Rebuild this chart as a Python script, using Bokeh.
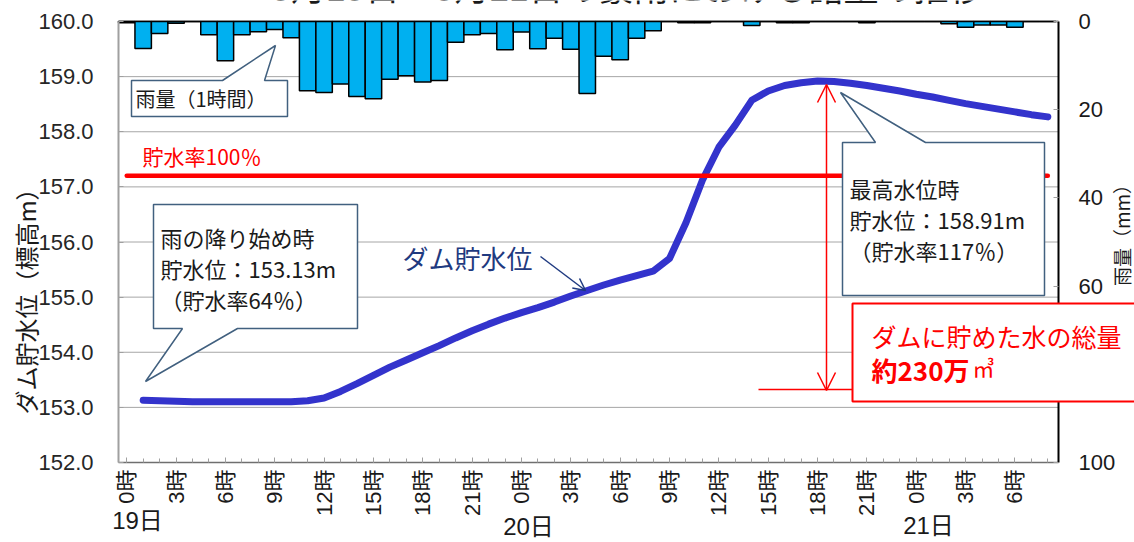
import math
from bokeh.plotting import figure
from bokeh.models import (Range1d, LinearAxis, FixedTicker, Label, Arrow, OpenHead,
                          BoxAnnotation, PrintfTickFormatter)
from bokeh.embed import file_html
from bokeh.resources import INLINE

# ---------------- data ----------------
hours = list(range(57))          # 19日0時 ... 21日8時
rain_mm = [0.3, 6.1, 2.7, 0.4, 0.0, 3.0, 8.9, 3.0, 2.3, 1.8,
           3.7, 15.7, 16.1, 14.2, 17.0, 17.5, 13.1, 12.3, 13.7, 13.4,
           4.7, 3.0, 2.7, 6.4, 2.4, 6.2, 3.8, 6.3, 16.3, 7.9,
           8.7, 3.8, 2.1, 0.0, 0.3, 0.3, 0.0, 0.0, 0.9, 0.0,
           0.3, 0.3, 0.0, 0.0, 0.0, 0.3, 0.0, 0.0, 0.0, 0.0,
           0.5, 1.3, 0.8, 0.8, 1.3, 0.0, 0.0]
level_hours = list(range(1, 57))
level_m = [153.13, 153.12, 153.11, 153.10, 153.10, 153.10, 153.10, 153.10, 153.10, 153.10,
           153.12, 153.17, 153.29, 153.43, 153.58, 153.73, 153.86, 153.99, 154.12, 154.26,
           154.39, 154.51, 154.62, 154.72, 154.81, 154.91, 155.02, 155.12, 155.22, 155.31,
           155.39, 155.47, 155.70, 156.35, 157.12, 157.72, 158.12, 158.57, 158.74, 158.84,
           158.89, 158.92, 158.91, 158.88, 158.84, 158.79, 158.74, 158.68, 158.63, 158.57,
           158.51, 158.46, 158.41, 158.36, 158.31, 158.27]
full_level = 157.2
level_ticks = [152, 153, 154, 155, 156, 157, 158, 159, 160]
rain_ticks = [0, 20, 40, 60, 80, 100]
tick_hours = list(range(0, 55, 3))
tick_labels = ["0時", "3時", "6時", "9時", "12時", "15時", "18時", "21時",
               "0時", "3時", "6時", "9時", "12時", "15時", "18時", "21時",
               "0時", "3時", "6時"]
day_labels = ["19日", "20日", "21日"]
title_text = "9月19日～9月21日の豪雨における諸量の推移"

# ---------------- layout (canvas pixels -> data) ----------------
CW, CH = 1134, 542
FL, FT, FW, FH = 118.0, 21.0, 940.0, 441.0     # visual plot box
XR = (-0.5, 56.65)
YR = (152.0, 160.0)
RR = (0.0, 100.0)


def hx(px):
    return XR[0] + (px - FL) * (XR[1] - XR[0]) / FW


def ly(py):
    return YR[1] - (py - FT) * (YR[1] - YR[0]) / FH


def rr(py):
    return RR[0] + (py - FT) * (RR[1] - RR[0]) / FH


JP = "Noto Sans CJK JP"
MIX = "'Liberation Sans', 'Noto Sans CJK JP'"

p = figure(width=CW, height=CH, min_border=0,
           x_range=Range1d(hx(0), hx(CW)), y_range=Range1d(ly(CH), ly(0)),
           x_axis_location=None, y_axis_location=None,
           output_backend="svg", toolbar_location=None,
           background_fill_color="white", border_fill_color="white")
p.extra_y_ranges = {"rain": Range1d(rr(CH), rr(0))}
p.outline_line_color = None
p.grid.visible = False

# grid lines and top edge of the plot box
p.segment(x0=XR[0], x1=XR[1], y0=level_ticks[1:-1], y1=level_ticks[1:-1],
          line_color="#A6A6A6", line_width=1)
p.segment(x0=XR[0], x1=XR[1], y0=YR[1], y1=YR[1], line_color="black", line_width=1.5)

# left axis
ya = LinearAxis(ticker=FixedTicker(ticks=level_ticks),
                formatter=PrintfTickFormatter(format="%.1f"),
                fixed_location=XR[0], bounds=YR)
ya.major_label_text_font = MIX
ya.major_label_text_font_size = "22px"
ya.major_label_text_color = "#262626"
ya.major_label_standoff = 25
ya.axis_line_color = "#A0A0A0"
ya.axis_line_width = 2
ya.major_tick_line_color = "#A0A0A0"
ya.major_tick_in = 5
ya.major_tick_out = 0
ya.minor_tick_line_color = None
p.add_layout(ya, "left")

# bottom axis
xa = LinearAxis(ticker=FixedTicker(ticks=tick_hours, minor_ticks=hours),
                fixed_location=YR[0], bounds=XR)
xa.major_label_overrides = {h: t for h, t in zip(tick_hours, tick_labels)}
xa.major_label_orientation = math.pi / 2
xa.major_label_text_font = MIX
xa.major_label_text_font_size = "22px"
xa.major_label_text_color = "#1A1A1A"
xa.major_label_standoff = 7
xa.axis_line_color = "#6F6F6F"
xa.axis_line_width = 1.5
xa.major_tick_line_color = "#A0A0A0"
xa.major_tick_in = 5
xa.major_tick_out = 0
xa.minor_tick_line_color = "#A0A0A0"
xa.minor_tick_in = 4
xa.minor_tick_out = 0
p.add_layout(xa, "below")

# right axis (rain, 0 at the top)
ra = LinearAxis(y_range_name="rain", ticker=FixedTicker(ticks=rain_ticks),
                fixed_location=XR[1], bounds=RR)
ra.major_label_overrides = {80: ""}
ra.major_label_text_font = MIX
ra.major_label_text_font_size = "22px"
ra.major_label_text_color = "#1A1A1A"
ra.major_label_standoff = 20
ra.axis_line_color = "black"
ra.axis_line_width = 2
ra.major_tick_line_color = "#A0A0A0"
ra.major_tick_in = 5
ra.major_tick_out = 0
ra.minor_tick_line_color = None
p.add_layout(ra, "right")

# rain bars hanging from the top
p.vbar(x=hours, top=rain_mm, bottom=0, width=1.0, y_range_name="rain",
       fill_color="#00B0F0", line_color="black", line_width=1.5)

# water level
p.line(level_hours, level_m, line_width=7, color="#3333CC",
       line_cap="round", line_join="round")

# 100% storage level
p.line([hours[0], hours[-1]], [full_level, full_level], line_width=4.5,
       color="#FF0000", line_cap="round")

# ---------------- callouts ----------------
CALL = "#41607F"


def callout(pts):
    p.patch([hx(a) for a, b in pts], [ly(b) for a, b in pts],
            fill_color="white", line_color=CALL, line_width=1.5)


callout([(131, 80), (222, 80), (275, 45), (264, 80), (287, 80), (287, 116), (131, 116)])
callout([(153, 204), (357, 204), (357, 328), (237, 328), (145, 381), (182, 328), (153, 328)])
callout([(842, 142), (875, 142), (840, 92), (925, 142), (1044, 142), (1044, 295), (842, 295)])


def lab(px, py, text, size, color="#1A1A1A", font=JP, align="left", angle=0.0,
        style="normal", baseline="middle"):
    p.add_layout(Label(x=hx(px), y=ly(py), text=text, text_font=font,
                       text_font_size=f"{size}px", text_color=color, text_align=align,
                       text_baseline=baseline, angle=angle, text_font_style=style))


lab(135, 98, "雨量（1時間）", 20)
lab(160, 236, "雨の降り始め時", 22)
lab(160, 267, "貯水位：153.13m", 22)
lab(160, 298, "（貯水率64％）", 22)
lab(849, 187, "最高水位時", 22)
lab(849, 218, "貯水位：158.91m", 22)
lab(849, 249, "（貯水率117％）", 22)
lab(142, 155, "貯水率100％", 21, color="#FF0000")
lab(402, 257, "ダム貯水位", 26, color="#1F3A80")

# arrow from label to the line
p.add_layout(Arrow(end=OpenHead(size=12, line_color="#1F3A80", line_width=1.5),
                   x_start=hx(540), y_start=ly(256), x_end=hx(585), y_end=ly(290),
                   line_color="#1F3A80", line_width=1.5))

# stored volume measurement
p.add_layout(Arrow(start=OpenHead(size=18, line_color="#FF0000", line_width=1.5),
                   end=OpenHead(size=18, line_color="#FF0000", line_width=1.5),
                   x_start=hx(826), y_start=ly(390), x_end=hx(826), y_end=ly(84),
                   line_color="#FF0000", line_width=1.5))
p.line([hx(758), hx(852)], [ly(389), ly(389)], color="#FF0000", line_width=1.5)

p.add_layout(BoxAnnotation(left=hx(852), right=hx(1150), top=ly(303), bottom=ly(401),
                           fill_color="white", fill_alpha=1.0,
                           line_color="#FF0000", line_alpha=1.0, line_width=2))
lab(871, 335, "ダムに貯めた水の総量", 25, color="#FF0000")
lab(871, 369, "約230万", 26, color="#FF0000", style="bold")
lab(972, 366, "㎥", 22, color="#FF0000")

# axis titles
lab(25, 295, "ダム貯水位（標高m）", 24, color="#1A1A1A", align="center", angle=math.pi / 2)
lab(1121, 230, "雨量（mm）", 19, color="#1A1A1A", align="center", angle=math.pi / 2)

# day labels
lab(137, 520, day_labels[0], 24, font=MIX, align="center")
lab(528, 526, day_labels[1], 24, font=MIX, align="center")
lab(928, 525, day_labels[2], 24, font=MIX, align="center")

# title (cut off at the top like the reference)
lab(627, 7, title_text, 35, font=MIX, align="center", baseline="bottom")

open("out.html", "w").write(file_html(p, INLINE))
